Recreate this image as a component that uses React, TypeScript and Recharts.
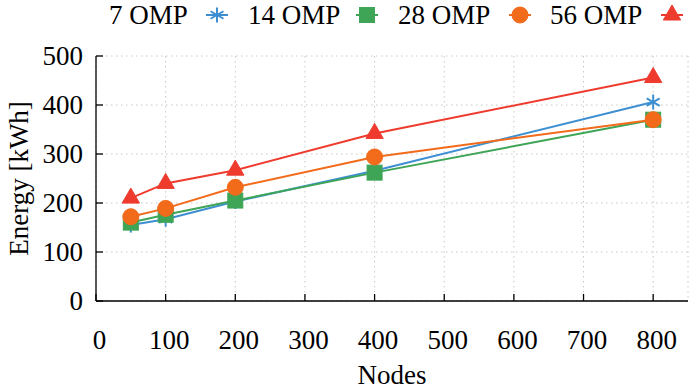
import React from 'react';
import { LineChart, Line, XAxis, YAxis, CartesianGrid } from 'recharts';

const nodes = [50, 100, 200, 400, 800];
const omp7 = [155, 167, 203, 266, 406];
const omp14 = [160, 176, 205, 262, 370];
const omp28 = [172, 189, 232, 294, 370];
const omp56 = [210, 240, 267, 342, 456];
const seriesNames = ['7 OMP', '14 OMP', '28 OMP', '56 OMP'];
const xTicks = [0, 100, 200, 300, 400, 500, 600, 700, 800];
const yTicks = [0, 100, 200, 300, 400, 500];

const COLORS = ['#3d8fd1', '#3ea556', '#f26b1b', '#ee3b2e'];
const SHAPES = ['asterisk', 'square', 'circle', 'triangle'];
const FONT = 'Liberation Serif';
const FS = 27;

// legend layout (text start x, marker center x)
const LEG_TEXT_X = [109, 248, 398, 550];
const LEG_MARK_X = [217, 367, 520, 672];

const data = nodes.map((n, i) => ({
  n,
  s0: omp7[i],
  s1: omp14[i],
  s2: omp28[i],
  s3: omp56[i],
}));

function Marker({ shape, color, cx, cy, scale = 1 }: { shape: string; color: string; cx: number; cy: number; scale?: number }) {
  if (shape === 'asterisk') {
    const r = 7.5 * scale;
    const lines = [90, 30, -30].map((a) => {
      const rad = (a * Math.PI) / 180;
      const dx = r * Math.cos(rad);
      const dy = r * Math.sin(rad);
      return <line key={a} x1={cx - dx} y1={cy - dy} x2={cx + dx} y2={cy + dy} stroke={color} strokeWidth={2} />;
    });
    return <g>{lines}</g>;
  }
  if (shape === 'square') {
    const h = 7.5 * scale;
    return <rect x={cx - h} y={cy - h} width={2 * h} height={2 * h} fill={color} stroke={color} strokeWidth={1} />;
  }
  if (shape === 'circle') {
    return <circle cx={cx} cy={cy} r={8 * scale} fill={color} stroke={color} />;
  }
  const r = 10 * scale;
  const pts = [
    [cx, cy - r],
    [cx - r * 0.866, cy + r * 0.5],
    [cx + r * 0.866, cy + r * 0.5],
  ]
    .map((p) => p.join(','))
    .join(' ');
  return <polygon points={pts} fill={color} stroke={color} strokeWidth={1} />;
}

const makeDot = (idx: number) => (props: any) => {
  const { cx, cy, index } = props;
  if (cx == null || cy == null) return <g key={`d${idx}-${index}`} />;
  return (
    <g key={`d${idx}-${index}`}>
      <Marker shape={SHAPES[idx]} color={COLORS[idx]} cx={cx} cy={cy} />
    </g>
  );
};

const XTickBottom = (props: any) => {
  const { x, y, payload } = props;
  return (
    <g>
      <line x1={x} y1={y} x2={x} y2={y - 7} stroke="#000" strokeWidth={1.3} />
      <text x={x + 3.5} y={y + 48} textAnchor="middle" fontFamily={FONT} fontSize={FS} fill="#000">
        {payload.value}
      </text>
    </g>
  );
};

const XTickTop = (props: any) => {
  const { x, y } = props;
  return <line x1={x} y1={y} x2={x} y2={y + 7} stroke="#000" strokeWidth={1.3} />;
};

const YTickLeft = (props: any) => {
  const { x, y, payload } = props;
  return (
    <g>
      <line x1={x} y1={y} x2={x + 7} y2={y} stroke="#000" strokeWidth={1.3} />
      <text x={x - 13} y={y} dy="0.35em" textAnchor="end" fontFamily={FONT} fontSize={FS} fill="#000">
        {payload.value}
      </text>
    </g>
  );
};

const YTickRight = (props: any) => {
  const { x, y } = props;
  return <line x1={x} y1={y} x2={x - 7} y2={y} stroke="#000" strokeWidth={1.3} />;
};

function LegendBar() {
  return (
    <svg width={693} height={32} style={{ position: 'absolute', left: 0, top: 0 }}>
      {seriesNames.map((name, i) => (
        <g key={name}>
          <text x={LEG_TEXT_X[i]} y={24} fontFamily={FONT} fontSize={FS} fill="#000">
            {name}
          </text>
          <line x1={LEG_MARK_X[i] - 11} y1={15} x2={LEG_MARK_X[i] + 11} y2={15} stroke={COLORS[i]} strokeWidth={2} />
          <Marker shape={SHAPES[i]} color={COLORS[i]} cx={LEG_MARK_X[i]} cy={15} scale={1} />
        </g>
      ))}
    </svg>
  );
}

export default function App() {
  return (
    <div style={{ position: 'absolute', left: 0, top: 0, width: 693, height: 391, background: '#fff' }}>
      <LineChart width={693} height={391} data={data} margin={{ top: 56, right: 5, bottom: 0, left: 0 }}>
        <CartesianGrid stroke="#c8c8c8" strokeDasharray="1.5 3.5" strokeWidth={1} />
        <XAxis
          dataKey="n"
          type="number"
          domain={[0, 850]}
          ticks={xTicks}
          interval={0}
          height={90}
          axisLine={{ stroke: '#000', strokeWidth: 1.3 }}
          tickLine={false}
          tickSize={0}
          tickMargin={0}
          tick={<XTickBottom />}
          label={{ value: 'Nodes', position: 'insideBottom', offset: 7, fontFamily: FONT, fontSize: FS, fill: '#000' }}
        />
        <XAxis
          xAxisId="top"
          orientation="top"
          dataKey="n"
          type="number"
          domain={[0, 850]}
          ticks={xTicks}
          interval={0}
          height={0}
          axisLine={{ stroke: '#000', strokeWidth: 1.3 }}
          tickLine={false}
          tickSize={0}
          tickMargin={0}
          tick={<XTickTop />}
        />
        <YAxis
          type="number"
          domain={[0, 500]}
          ticks={yTicks}
          interval={0}
          width={96}
          axisLine={{ stroke: '#000', strokeWidth: 1.3 }}
          tickLine={false}
          tickSize={0}
          tickMargin={0}
          tick={<YTickLeft />}
          label={{
            value: 'Energy [kWh]',
            angle: -90,
            position: 'insideLeft',
            offset: 0,
            dx: 18,
            fontFamily: FONT,
            fontSize: FS,
            fill: '#000',
            style: { textAnchor: 'middle' },
          }}
        />
        <YAxis
          yAxisId="right"
          orientation="right"
          type="number"
          domain={[0, 500]}
          ticks={yTicks}
          interval={0}
          width={0}
          axisLine={{ stroke: '#000', strokeWidth: 1.3 }}
          tickLine={false}
          tickSize={0}
          tickMargin={0}
          tick={<YTickRight />}
        />
        {[0, 1, 2, 3].map((i) => (
          <Line
            key={i}
            type="linear"
            dataKey={`s${i}`}
            stroke={COLORS[i]}
            strokeWidth={2}
            dot={makeDot(i)}
            activeDot={false}
            isAnimationActive={false}
          />
        ))}
      </LineChart>
      <LegendBar />
    </div>
  );
}
